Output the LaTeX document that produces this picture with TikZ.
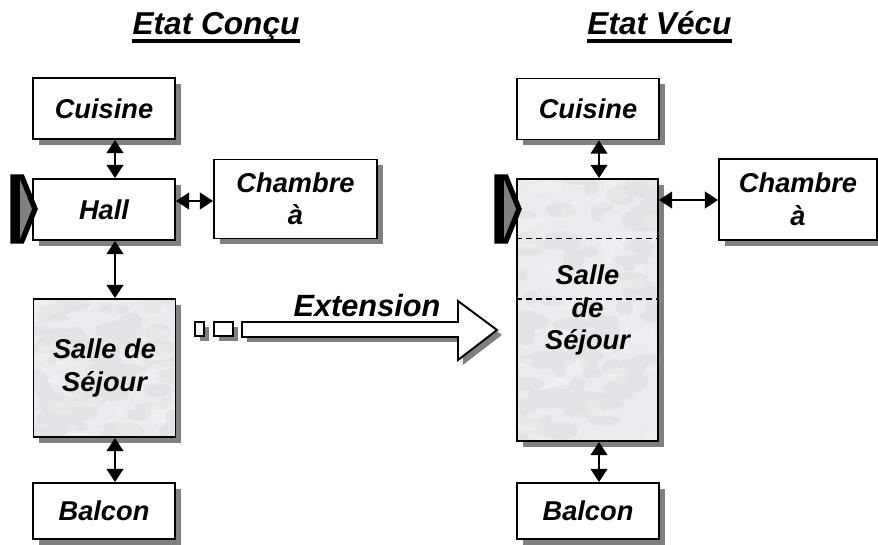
\documentclass[tikz,border=0pt]{standalone}
\usepackage{fontspec}
\setmainfont{Liberation Sans}
\usetikzlibrary{positioning, arrows.meta, shadows, calc}
\definecolor{ombre}{RGB}{128, 128, 128}
\definecolor{marbre}{RGB}{234, 235, 238}
\definecolor{veine}{RGB}{140, 142, 148}
\pgfmathsetseed{11}
\tikzset{
    piece/.style={draw, rectangle, fill=white, line width=1.1pt, align=center, inner sep=2pt,
                  font=\fontsize{15.5}{18.5}\selectfont\bfseries\itshape,
                  drop shadow={shadow xshift=3.4pt, shadow yshift=-3.4pt, fill=ombre, opacity=1}},
    marbrure/.style={fill=marbre, path picture={
        \fill[veine, opacity=.07] let \p1=(path picture bounding box.south west),
              \p2=(path picture bounding box.north east) in
            foreach \k in {1,...,90}{ ({\x1+rnd*(\x2-\x1)},{\y1+rnd*(\y2-\y1)}) ellipse ({3pt+rnd*8pt} and {2pt+rnd*4pt}) };
        \fill[white, opacity=.18] let \p1=(path picture bounding box.south west),
              \p2=(path picture bounding box.north east) in
            foreach \k in {1,...,40}{ ({\x1+rnd*(\x2-\x1)},{\y1+rnd*(\y2-\y1)}) ellipse ({2pt+rnd*6pt} and {2pt+rnd*3pt}) };
    }},
    lien/.style={{Triangle[length=7.5pt,width=9.5pt]}-{Triangle[length=7.5pt,width=9.5pt]}, line width=1.1pt},
    titre/.style={font=\fontsize{18}{21}\selectfont\bfseries\itshape, inner sep=0pt, anchor=base},
    souligne/.style={line width=2.3pt},
    repere/.style={fill=ombre, draw=black, line width=3pt, line join=miter},
    fleche/.style={fill=white, draw=black, line width=1.1pt,
                   drop shadow={shadow xshift=2.8pt, shadow yshift=-2.8pt, fill=ombre, opacity=1}},
    separ/.style={dash pattern=on 3.4pt off 2.3pt, line width=0.9pt},
}

\begin{document}
\begin{tikzpicture}[x=0.02cm, y=-0.02cm]
    \useasboundingbox (0,0) rectangle (878,544);

    % titres
    \node [titre] (t1) at (216,35) {Etat Conçu};
    \node [titre] (t2) at (659.5,35) {Etat Vécu};
    \draw [souligne] ([yshift=-3.4pt]t1.base west) -- ([yshift=-3.4pt]t1.base east);
    \draw [souligne] ([yshift=-3.4pt]t2.base west) -- ([yshift=-3.4pt]t2.base east);

    % etat concu
    \node [piece, minimum width=2.84cm, minimum height=1.22cm] (cuisL) at (104,108.5) {Cuisine};
    \node [piece, minimum width=2.84cm, minimum height=1.22cm] (hallL) at (104,209.5) {Hall};
    \node [piece, minimum width=3.26cm, minimum height=1.58cm] (chamL) at (295.5,199) {Chambre\\à};
    \node [piece, marbrure, minimum width=2.84cm, minimum height=2.76cm] (salL) at (104.5,368) {Salle de\\Séjour};
    \node [piece, minimum width=2.84cm, minimum height=1.12cm] (balL) at (104,511) {Balcon};

    % etat vecu
    \node [piece, minimum width=2.84cm, minimum height=1.22cm] (cuisR) at (588,109) {Cuisine};
    \node [piece, marbrure, minimum width=2.82cm, minimum height=5.24cm] (salR) at (587.5,310) {Salle\\de\\Séjour};
    \node [piece, minimum width=3.16cm, minimum height=1.62cm] (chamR) at (798,199.5) {Chambre\\à};
    \node [piece, minimum width=2.84cm, minimum height=1.12cm] (balR) at (588,511) {Balcon};

    \draw [separ] ($(salR.north west)!0.229!(salR.south west)$) -- ($(salR.north east)!0.229!(salR.south east)$);
    \draw [separ] ($(salR.north west)!0.458!(salR.south west)$) -- ($(salR.north east)!0.458!(salR.south east)$);

    % reperes d'entree
    \filldraw [repere] (13,177) -- (22,177) -- (35,209) -- (22,241) -- (13,241) -- cycle;
    \fill (11,175) rectangle (20,243);
    \filldraw [repere] (497,177) -- (506,177) -- (519,209) -- (506,241) -- (497,241) -- cycle;
    \fill (495,175) rectangle (504,243);

    % liaisons
    \coordinate (axL) at (115,0);
    \coordinate (axR) at (599,0);
    \coordinate (rowL) at (0,201);
    \coordinate (rowR) at (0,200);
    \draw [lien] (cuisL.south -| axL) -- (hallL.north -| axL);
    \draw [lien] (hallL.south -| axL) -- (salL.north -| axL);
    \draw [lien] (salL.south -| axL) -- (balL.north -| axL);
    \draw [lien] (hallL.east |- rowL) -- (chamL.west |- rowL);
    \draw [lien] (cuisR.south -| axR) -- (salR.north -| axR);
    \draw [lien] (salR.south -| axR) -- (balR.north -| axR);
    \draw [lien] (salR.east |- rowR) -- (chamR.west |- rowR);

    % extension
    \draw [fleche] (195,322) rectangle (204,336);
    \draw [fleche] (214,322) rectangle (233,336);
    \draw [fleche] (242,322) -- (458,322) -- (458,301) -- (497,330) -- (458,360) -- (458,337) -- (242,337) -- cycle;
    \node [font=\fontsize{17.5}{20}\selectfont\bfseries\itshape, inner sep=0pt] (ext) at (367,306) {Extension};
\end{tikzpicture}
\end{document}
